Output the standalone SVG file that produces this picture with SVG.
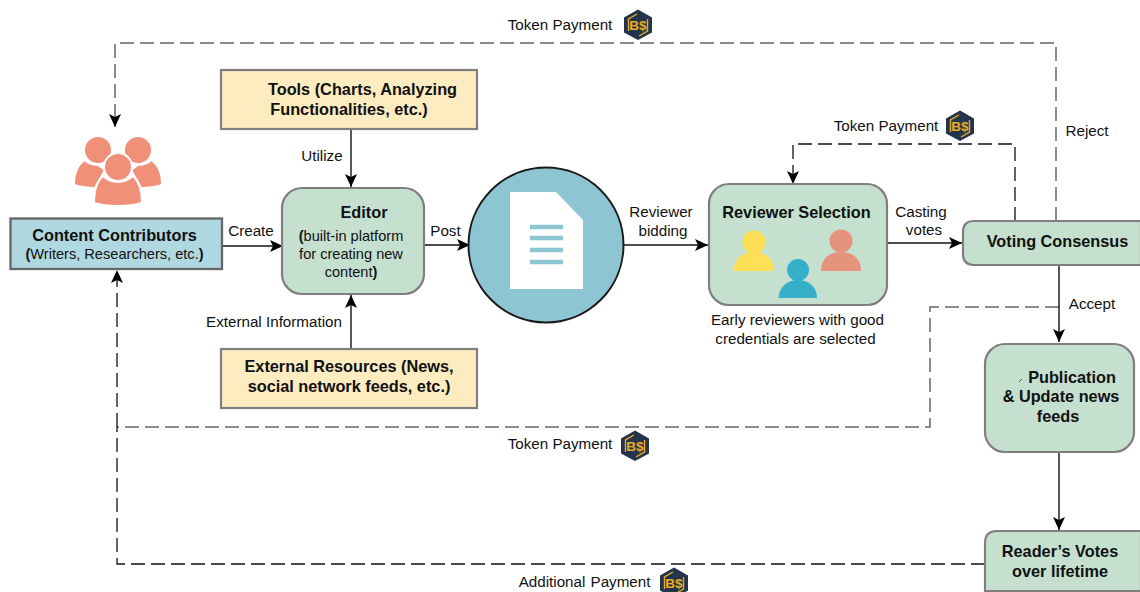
<svg xmlns="http://www.w3.org/2000/svg" width="1140" height="592" viewBox="0 0 1140 592">
<style>
text{font-family:"Liberation Sans",Arial,sans-serif;fill:#111;text-anchor:middle}
.b{font-weight:700;font-size:16.3px}
.l{font-size:15.2px}
.s{font-size:14.6px}
.n{stroke:#7f7f7f;stroke-width:2.2}
.g{fill:#c5e0cf}
.y{fill:#fcecc0}
.c{fill:none;stroke:#111;stroke-width:1.4}
.d{fill:none;stroke:#111;stroke-width:1.3;stroke-dasharray:14 6}
.dg{fill:none;stroke:#666;stroke-width:1.5;stroke-dasharray:14 6}
.coin{fill:#24344d}
.cl{fill:none;stroke:#e8ab24;stroke-width:1.4}
.ct{font-size:13.5px;font-weight:700;fill:#e8ab24}
</style>
<defs>
<marker id="a" markerUnits="userSpaceOnUse" markerWidth="14" markerHeight="14" refX="13" refY="6.500" orient="auto"><path d="M0 0.500L13 6.500L0 12.500L3 6.500Z" fill="#000"/></marker>
</defs>
<g id="connectors">
<path class="dg" d="M1056 221V43H115V127" marker-end="url(#a)"/>
<path class="d" d="M1015 221V144H793V184" marker-end="url(#a)"/>
<path class="dg" d="M1059 307H930V427H117"/>
<path class="d" d="M117 427V270" marker-end="url(#a)"/>
<path class="d" d="M985 564H117V427"/>
<path class="c" d="M222 246H283" marker-end="url(#a)"/>
<path class="c" d="M351 130V187" marker-end="url(#a)"/>
<path class="c" d="M351 348V295" marker-end="url(#a)"/>
<path class="c" d="M424 245H470" stroke-width="2" marker-end="url(#a)"/>
<path class="c" d="M624 245H708" marker-end="url(#a)"/>
<path class="c" d="M887 243H962" marker-end="url(#a)"/>
<path class="c" d="M1059 265V342" marker-end="url(#a)"/>
<path class="c" d="M1059 453V530" marker-end="url(#a)"/>
</g>
<g id="people">
<g fill="#f09078" stroke="#fff" stroke-width="2">
<circle cx="98" cy="150" r="14"/><circle cx="138" cy="150" r="14"/>
<path d="M85 160C77 165 74 175 74 185C80 187 87 188 95 188L105 170L98 165C92 165 88 164 85 160Z"/>
<path d="M151 160C159 165 162 175 162 185C156 187 149 188 141 188L131 170L138 165C144 165 148 164 151 160Z"/>
<path d="M103 176C96 182 94 192 94 203C108 207 128 207 142 203C142 192 140 182 133 176C124 184 112 184 103 176Z"/>
<circle cx="118" cy="167" r="14"/>
</g>
</g>
<g id="contributors"><rect x="10.500" y="218.500" width="211.500" height="50.500" fill="#b0d8e0" stroke="#666" stroke-width="2.300"/>
<text class="b" x="114.500" y="241">Content Contributors</text><text x="114.500" y="259" class="s"><tspan font-weight="700">(</tspan>Writers, Researchers, etc.<tspan font-weight="700">)</tspan></text></g>
<g id="tools"><rect class="n y" x="221" y="70" width="256" height="59"/><text class="b" x="362.500" y="95">Tools (Charts, Analyzing</text><text class="b" x="349" y="115">Functionalities, etc.)</text></g>
<g id="editor"><rect class="n g" x="282" y="188" width="142" height="106" rx="20"/><text class="b" x="364" y="218">Editor</text><text x="351" y="241" class="s"><tspan font-weight="700">(</tspan>built-in platform</text><text x="351" y="259" class="s">for creating new</text><text x="351" y="277" class="s">content<tspan font-weight="700">)</tspan></text></g>
<g id="external"><rect class="n y" x="221" y="349" width="256" height="59"/><text class="b" x="349" y="372">External Resources (News,</text><text class="b" x="349" y="392">social network feeds, etc.)</text></g>
<g id="document"><circle cx="546" cy="245" r="77.500" fill="#8dc5d3" stroke="#1a1a1a" stroke-width="2"/><path d="M510 192H556L583 220V289H510Z" fill="#fff"/><path d="M530 227H563M530 238H563M530 250H563M530 262H563" stroke="#8dc5d3" stroke-width="4.500"/></g>
<g id="reviewer"><rect class="n g" x="709" y="184" width="178" height="121" rx="20"/><text class="b" x="796.500" y="218">Reviewer Selection</text>
<g fill="#ffdf55"><circle cx="754" cy="242" r="11.500"/><path d="M733.500 271C734 258 743 252 754 252C765 252 774 258 774 271Z"/></g>
<g fill="#e5937d"><circle cx="841" cy="241" r="11.500"/><path d="M821 271C821 258 830 252 841 252C852 252 861 258 861 271Z"/></g>
<g fill="#36b0c9"><circle cx="798" cy="270" r="11"/><path d="M778.500 298C779 287 787 280 798 280C809 280 817 287 817 298Z"/></g></g>
<g id="voting"><path class="n g" d="M1141 221H974Q963 221 963 232V254Q963 265 974 265H1141Z"/><text class="b" x="1057.500" y="247">Voting Consensus</text></g>
<g id="publication"><rect class="n g" x="985" y="344" width="149" height="108" rx="20"/><text class="b" x="1072" y="383">Publication</text><text class="b" x="1061" y="402">&amp; Update news</text><text class="b" x="1058" y="422">feeds</text><path d="M1019 382L1022 379" stroke="#555" fill="none"/></g>
<g id="readers"><path class="n g" d="M1141 531H997Q985 531 985 543V591H1141Z"/><text class="b" x="1060" y="557">Reader’s Votes</text><text class="b" x="1060" y="577">over lifetime</text></g>
<g id="labels">
<text class="l" x="560" y="30">Token Payment</text>
<text class="l" x="886" y="131">Token Payment</text>
<text class="l" x="560" y="449">Token Payment</text>
<text class="l" x="552" y="587">Additional</text>
<text class="l" x="620.500" y="587">Payment</text>
<text class="l" x="1087" y="136">Reject</text>
<text class="l" x="1092" y="309">Accept</text>
<text class="l" x="251" y="236">Create</text>
<text class="l" x="322" y="161">Utilize</text>
<text class="l" x="274" y="327">External Information</text>
<text class="l" x="445.500" y="236">Post</text>
<text class="l" x="661" y="217">Reviewer</text>
<text class="l" x="663" y="236">bidding</text>
<text class="l" x="921" y="217">Casting</text>
<text class="l" x="924" y="235">votes</text>
<text class="l" x="797.500" y="325">Early reviewers with good</text>
<text class="l" x="795.500" y="344">credentials are selected</text>
</g>
<g id="coin1"><path class="coin" d="M638 9.500L652 17.500V32.500L638 40L624 32.500V17.500Z"/><path class="cl" d="M628.500 31V19L637 14M647.500 19V31L639 36"/><text class="ct" x="638" y="30">B$</text></g>
<g id="coin2"><path class="coin" d="M960 110.500L974 118.500V133.500L960 141L946 133.500V118.500Z"/><path class="cl" d="M950.500 132V120L959 115M969.500 120V132L961 137"/><text class="ct" x="960" y="131">B$</text></g>
<g id="coin3"><path class="coin" d="M635 430.500L649 438.500V453.500L635 461L621 453.500V438.500Z"/><path class="cl" d="M625.500 452V440L634 435M644.500 440V452L636 457"/><text class="ct" x="635" y="451">B$</text></g>
<g id="coin4"><path class="coin" d="M674 567.500L688 575.500V590.500L674 598L660 590.500V575.500Z"/><path class="cl" d="M664.500 589V577L673 572M683.500 577V589L675 594"/><text class="ct" x="674" y="588">B$</text></g>
</svg>
